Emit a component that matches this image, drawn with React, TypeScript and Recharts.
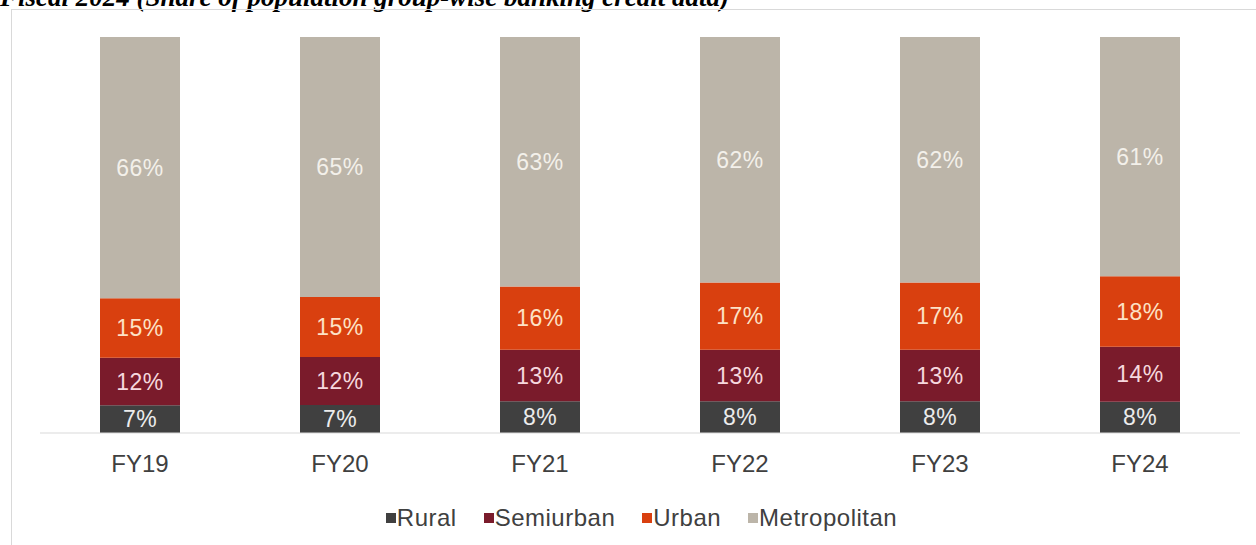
import React from 'react';
import { BarChart, Bar, XAxis, YAxis, Legend, LabelList } from 'recharts';

const years = ['FY19', 'FY20', 'FY21', 'FY22', 'FY23', 'FY24'];
const rural = [7, 7, 8, 8, 8, 8];
const semiurban = [12, 12, 13, 13, 13, 14];
const urban = [15, 15, 16, 17, 17, 18];
const metropolitan = [66, 65, 63, 62, 62, 61];

const series = [
  { key: 'Rural', color: '#404040', text: '#ececec' },
  { key: 'Semiurban', color: '#7a1b2b', text: '#f6d8de' },
  { key: 'Urban', color: '#d9400f', text: '#fde2c6' },
  { key: 'Metropolitan', color: '#bcb5a9', text: '#f3f0ea' },
];

const data = years.map((year, i) => ({
  year,
  Rural: rural[i],
  Semiurban: semiurban[i],
  Urban: urban[i],
  Metropolitan: metropolitan[i],
}));

const font = 'Arial, "Liberation Sans", sans-serif';

// legend like the excel one: small squares, big grey text
const LegendContent = () => (
  <div style={{ display: 'flex', justifyContent: 'center', fontFamily: font, fontSize: 24, letterSpacing: 0.5, color: '#404040' }}>
    {series.map((s) => (
      <div key={s.key} style={{ display: 'flex', alignItems: 'center', marginRight: 27 }}>
        <span style={{ width: 10, height: 10, background: s.color, display: 'inline-block', marginRight: 1 }} />
        <span>{s.key}</span>
      </div>
    ))}
  </div>
);

export default function App() {
  return (
    <div style={{ position: 'absolute', left: 0, top: 0, width: 1256, height: 545, overflow: 'hidden', background: '#fff' }}>
      <div
        style={{
          position: 'absolute',
          left: 0,
          top: -16,
          fontFamily: '"Liberation Serif", "Times New Roman", serif',
          fontWeight: 'bold',
          fontStyle: 'italic',
          fontSize: 27,
          lineHeight: '27px',
          whiteSpace: 'nowrap',
          color: '#000',
        }}
      >
        Fiscal 2024 (Share of population group-wise banking credit data)
      </div>
      <div style={{ position: 'absolute', left: 11, top: 9, width: 1260, height: 560, border: '1px solid #d9d9d9' }} />
      <div style={{ position: 'absolute', left: 0, top: 0 }}>
        <BarChart
          width={1256}
          height={545}
          data={data}
          stackOffset="expand"
          barSize={80}
          margin={{ top: 37, right: 16, left: 40, bottom: 44 }}
        >
          <XAxis
            dataKey="year"
            axisLine={{ stroke: '#d9d9d9' }}
            tickLine={false}
            height={40}
            tick={{ fill: '#404040', fontSize: 24, fontFamily: font }}
            dy={14}
          />
          <YAxis hide domain={[0, 1]} />
          <Legend content={<LegendContent />} wrapperStyle={{ top: 504, left: 27, width: 1256 }} />
          {series.map((s) => (
            <Bar key={s.key} dataKey={s.key} stackId="a" fill={s.color} isAnimationActive={false}>
              <LabelList
                dataKey={s.key}
                position="center"
                formatter={(v: any) => `${v}%`}
                style={{ fill: s.text, fontSize: 23, fontFamily: font, letterSpacing: 0.5 }}
              />
            </Bar>
          ))}
        </BarChart>
      </div>
    </div>
  );
}
